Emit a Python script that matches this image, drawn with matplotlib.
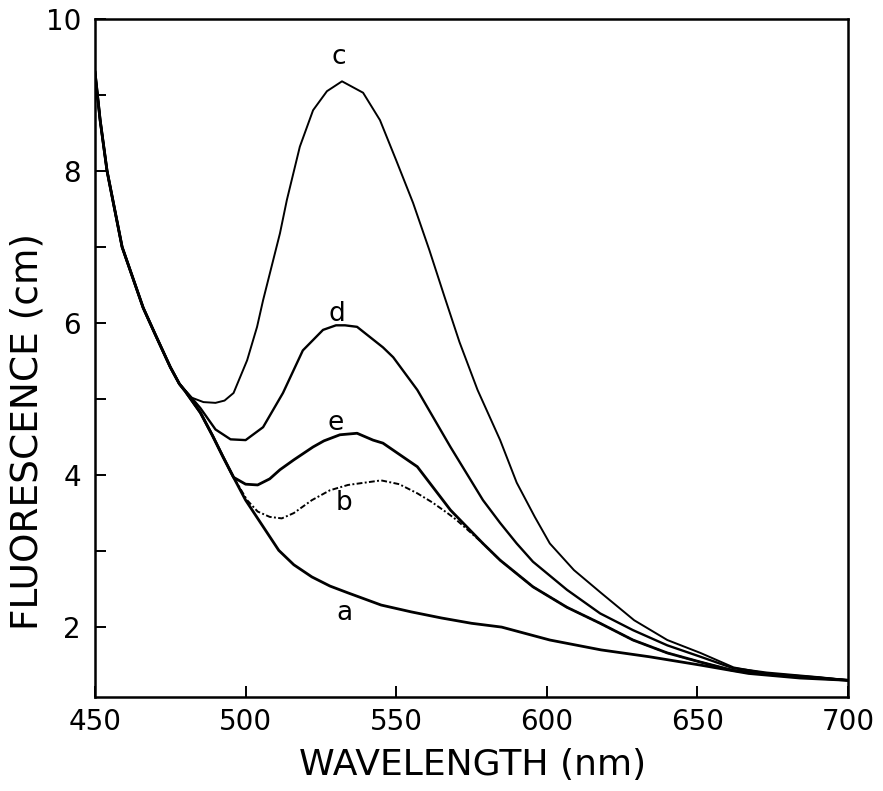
import numpy as np
import matplotlib
matplotlib.use("Agg")
import matplotlib.pyplot as plt

# shared steep part (scatter tail) common to all spectra
wl_common = [450, 451.7, 454, 459, 466, 470, 475, 478]
fl_common = [9.3, 8.67, 8.0, 7.0, 6.2, 5.85, 5.42, 5.2]

wl_a = [480, 485, 489, 492.5, 496, 500, 505, 511, 516, 522, 528, 534, 545, 555, 565,
        575, 585, 601, 618, 634, 651, 667, 684, 700]
fl_a = [5.1, 4.82, 4.52, 4.24, 3.97, 3.67, 3.37, 3.01, 2.82, 2.66, 2.54, 2.45, 2.29, 2.2, 2.12,
        2.05, 2.0, 1.83, 1.7, 1.61, 1.5, 1.39, 1.33, 1.3]

wl_b = [480, 485, 489, 492.5, 496, 500.5, 504, 508, 512, 516, 522, 528, 534, 545, 551, 557,
        562, 567, 570, 578.8, 584.5, 595.4, 606.7, 617.7, 628.6, 640, 651, 661.8, 673, 690, 700]
fl_b = [5.1, 4.82, 4.52, 4.24, 3.97, 3.67, 3.52, 3.45, 3.43, 3.5, 3.67, 3.8, 3.87, 3.93, 3.88, 3.76,
        3.64, 3.5, 3.41, 3.1, 2.88, 2.53, 2.26, 2.05, 1.83, 1.66, 1.54, 1.43, 1.38, 1.33, 1.3]

wl_c = [482, 486, 490, 493, 496, 500.5, 503.8, 505.8, 511.4, 513.7, 518, 522.4, 527, 532, 539,
        544.6, 550, 555.6, 561, 566, 571, 577, 584.5, 590, 596, 601, 609, 618, 629, 640, 651,
        662, 673, 690, 700]
fl_c = [5.02, 4.96, 4.95, 4.98, 5.08, 5.51, 5.95, 6.3, 7.18, 7.62, 8.32, 8.8, 9.05, 9.18, 9.03,
        8.67, 8.14, 7.58, 6.96, 6.35, 5.75, 5.12, 4.46, 3.9, 3.45, 3.1, 2.75, 2.45, 2.09, 1.83, 1.66,
        1.47, 1.39, 1.34, 1.3]

wl_d = [482, 485, 490, 495, 500, 505.8, 512.4, 519, 525.7, 530, 533, 537, 545.6, 549, 557, 568,
        578.8, 584.5, 590, 595.4, 606.7, 617.7, 628.6, 640, 651, 661.8, 673, 690, 700]
fl_d = [5.02, 4.88, 4.6, 4.47, 4.46, 4.63, 5.08, 5.64, 5.91, 5.97, 5.97, 5.95, 5.68, 5.55, 5.12, 4.37,
        3.67, 3.37, 3.1, 2.86, 2.49, 2.18, 1.96, 1.76, 1.61, 1.46, 1.4, 1.34, 1.3]

wl_e = [480, 485, 489, 492.5, 496, 500, 504, 508, 511.4, 516, 522.4, 526, 531.3, 537, 542.3, 545.6,
        557, 568, 578.8, 584.5, 595.4, 606.7, 617.7, 628.6, 640, 651, 661.8, 673, 690, 700]
fl_e = [5.1, 4.82, 4.52, 4.24, 3.97, 3.88, 3.87, 3.95, 4.07, 4.2, 4.37, 4.45, 4.53, 4.55, 4.46, 4.42,
        4.11, 3.54, 3.1, 2.88, 2.53, 2.26, 2.05, 1.83, 1.66, 1.54, 1.43, 1.38, 1.33, 1.3]

curve_names = ["a", "b", "c", "d", "e"]
label_x = [532.7, 532.7, 531, 530.3, 530]
label_y = [2.18, 3.63, 9.5, 6.12, 4.68]

x_ticks = [450, 500, 550, 600, 650, 700]
y_ticks = [2, 4, 6, 8, 10]
y_minor = [3, 5, 7, 9]

fig = plt.figure(figsize=(8.83, 7.91), dpi=100)
ax = fig.add_axes([0.1076, 0.1188, 0.8528, 0.8572])

ax.plot(wl_common + wl_a, fl_common + fl_a, color="black", lw=2.0)
ax.plot(wl_common + wl_b, fl_common + fl_b, color="black", lw=1.4,
        linestyle=(0, (3, 1.2, 1, 1.2)))
ax.plot(wl_common + wl_c, fl_common + fl_c, color="black", lw=1.4)
ax.plot(wl_common + wl_d, fl_common + fl_d, color="black", lw=1.7)
ax.plot(wl_common + wl_e, fl_common + fl_e, color="black", lw=2.0)

for name, lx, ly in zip(curve_names, label_x, label_y):
    ax.text(lx, ly, name, fontsize=19, ha="center", va="center")

ax.set_xlim(450, 700)
ax.set_ylim(1.08, 10)
ax.set_xticks(x_ticks)
ax.set_yticks(y_ticks)
ax.set_yticks(y_minor, minor=True)
ax.tick_params(which="both", direction="in", length=8, width=1.4, labelsize=20)
ax.tick_params(axis="x", pad=8)
ax.tick_params(axis="y", pad=10)
for s in ax.spines.values():
    s.set_linewidth(1.8)

ax.set_xlabel("WAVELENGTH (nm)", fontsize=26, va="center")
ax.set_ylabel("FLUORESCENCE (cm)", fontsize=27, va="center")
ax.xaxis.set_label_coords(0.502, -0.10)
ax.yaxis.set_label_coords(-0.089, 0.392)

fig.savefig("out.png", dpi=100)
